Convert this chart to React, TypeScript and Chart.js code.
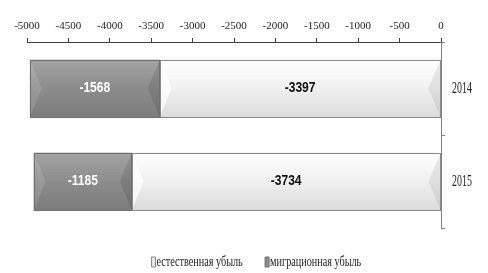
import { useEffect, useRef } from "react";
import { Chart, registerables } from "chart.js";

Chart.register(...registerables);

const categories = ["2014", "2015"];
const seriesNames = ["естественная убыль", "миграционная убыль"];
const naturalDecline = [-3397, -3734];
const migrationDecline = [-1568, -1185];
const xMin = -5000;
const xMax = 0;
const xStep = 500;

const SERIF = '"Liberation Serif", "Times New Roman", serif';

const palettes = [
  { top: "#ffffff", mid: "#f0f0f0", bottom: "#dcdcdc", left: "rgba(255,255,255,0.7)", right: "rgba(0,0,0,0.07)", border: "#8a8a8a", text: "#111111" },
  { top: "#a4a4a4", mid: "#8c8c8c", bottom: "#7c7c7c", left: "rgba(255,255,255,0.12)", right: "rgba(0,0,0,0.1)", border: "#6f6f6f", text: "#ffffff" },
];

function squeezedText(ctx: CanvasRenderingContext2D, text: string, x: number, y: number, sx: number, align: "left" | "center") {
  ctx.save();
  ctx.translate(x, y);
  ctx.scale(sx, 1);
  ctx.textAlign = align;
  ctx.textBaseline = "middle";
  ctx.fillText(text, 0, 0);
  ctx.restore();
}

const bevelPlugin = {
  id: "bevelBars",
  afterDatasetsDraw(chart: any) {
    const ctx: CanvasRenderingContext2D = chart.ctx;
    chart.data.datasets.forEach((ds: any, di: number) => {
      const meta = chart.getDatasetMeta(di);
      if (meta.hidden) return;
      const pal = palettes[di];
      meta.data.forEach((el: any, i: number) => {
        const { x, y, base, height } = el.getProps(["x", "y", "base", "height"], true);
        const l = Math.min(x, base);
        const r = Math.max(x, base);
        const t = y - height / 2;
        const b = y + height / 2;
        ctx.save();
        const g = ctx.createLinearGradient(0, t, 0, b);
        g.addColorStop(0, pal.top);
        g.addColorStop(0.5, pal.mid);
        g.addColorStop(1, pal.bottom);
        ctx.fillStyle = g;
        ctx.fillRect(l, t, r - l, b - t);
        const bw = Math.min(12, (r - l) / 2);
        ctx.fillStyle = pal.left;
        ctx.beginPath();
        ctx.moveTo(l, t);
        ctx.lineTo(l + bw, y);
        ctx.lineTo(l, b);
        ctx.closePath();
        ctx.fill();
        ctx.fillStyle = pal.right;
        ctx.beginPath();
        ctx.moveTo(r, t);
        ctx.lineTo(r - bw, y);
        ctx.lineTo(r, b);
        ctx.closePath();
        ctx.fill();
        ctx.strokeStyle = pal.border;
        ctx.lineWidth = 1;
        ctx.strokeRect(Math.round(l) + 0.5, Math.round(t) + 0.5, Math.round(r - l) - 1, Math.round(b - t) - 1);
        ctx.fillStyle = pal.text;
        ctx.font = 'bold 14px "Liberation Sans Narrow", "Arial Narrow", "Liberation Sans", sans-serif';
        squeezedText(ctx, String(ds.data[i]), (l + r) / 2, y, 0.86, "center");
        ctx.restore();
      });
    });
  },
  afterDraw(chart: any) {
    const ctx: CanvasRenderingContext2D = chart.ctx;
    ctx.save();
    ctx.fillStyle = "#222";
    const ys = chart.scales.y;
    ctx.font = `16px ${SERIF}`;
    ys.ticks.forEach((tk: any, i: number) => {
      const py = ys.getPixelForTick(i);
      squeezedText(ctx, String(ys.getLabelForValue(tk.value)), ys.left + 11, py, 0.62, "left");
    });
    const lg = chart.legend;
    if (lg && lg.legendHitBoxes) {
      ctx.font = `15px ${SERIF}`;
      lg.legendItems.forEach((item: any, i: number) => {
        const hb = lg.legendHitBoxes[i];
        squeezedText(ctx, item.text, hb.left + 5, hb.top + hb.height / 2, 0.68, "left");
      });
    }
    ctx.restore();
  },
};

export default function App() {
  const ref = useRef<HTMLCanvasElement>(null);
  useEffect(() => {
    document.body.style.margin = "0";
    const canvas = ref.current;
    if (!canvas) return;
    const chart = new Chart(canvas, {
      type: "bar",
      data: {
        labels: categories,
        datasets: [
          {
            label: seriesNames[0],
            data: naturalDecline,
            backgroundColor: "#e8e8e8",
            borderColor: "#8a8a8a",
            borderWidth: 1,
            borderSkipped: false,
            categoryPercentage: 1,
            barPercentage: 0.62,
          },
          {
            label: seriesNames[1],
            data: migrationDecline,
            backgroundColor: "#8c8c8c",
            borderColor: "#6f6f6f",
            borderWidth: 1,
            borderSkipped: false,
            categoryPercentage: 1,
            barPercentage: 0.62,
          },
        ],
      },
      options: {
        indexAxis: "y",
        animation: false,
        responsive: false,
        maintainAspectRatio: false,
        layout: { padding: { left: 27, right: 0, top: 0, bottom: -4 } },
        scales: {
          x: {
            position: "top",
            stacked: true,
            min: xMin,
            max: xMax,
            ticks: {
              stepSize: xStep,
              color: "#222",
              font: { family: SERIF, size: 11 },
              padding: 5,
              maxRotation: 0,
              autoSkip: false,
              callback: (v: any) => String(v),
            },
            grid: { drawOnChartArea: false, drawTicks: true, tickLength: 4, color: "#404040" },
            border: { display: true, color: "#404040" },
            afterFit: (s: any) => {
              s.height = 42;
            },
          },
          y: {
            position: "right",
            stacked: true,
            ticks: { color: "rgba(0,0,0,0)", font: { family: SERIF, size: 10 }, padding: 7 },
            grid: { drawOnChartArea: false, drawTicks: true, tickLength: 4, color: "#808080", offset: true },
            border: { display: true, color: "#808080" },
            afterFit: (s: any) => {
              s.width = 47;
            },
          },
        },
        plugins: {
          tooltip: { enabled: false },
          legend: {
            position: "bottom",
            title: { display: true, text: "", font: { size: 1, lineHeight: 1 }, padding: { top: 8, bottom: 0 } },
            labels: {
              boxWidth: 4,
              boxHeight: 10,
              padding: 20,
              color: "rgba(0,0,0,0)",
              font: { family: SERIF, size: 10 },
            },
          },
        },
      },
      plugins: [bevelPlugin],
    } as any);
    return () => chart.destroy();
  }, []);
  return <canvas ref={ref} width={488} height={273} style={{ display: "block" }} />;
}
